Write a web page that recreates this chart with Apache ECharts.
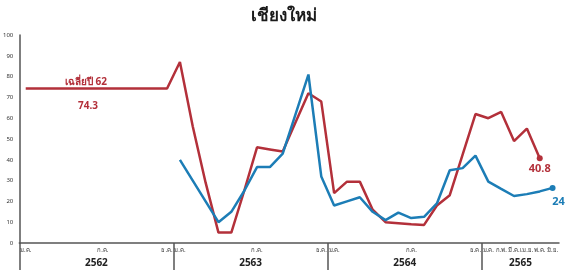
<!DOCTYPE html>
<html>
<head>
<meta charset="utf-8">
<script src="https://cdn.jsdelivr.net/npm/echarts@6/dist/echarts.min.js"></script>
<style>
  html, body { margin: 0; padding: 0; background: #fff; }
  #chart { width: 568px; height: 270px; }
</style>
</head>
<body>
<div id="chart"></div>
<script>
// month tick labels, Jan 2562 .. Jun 2565 ('' = no label)
var monthLabels = [
  "ม.ค.", "", "", "", "", "", "ก.ค.", "", "", "", "", "ธ.ค.",
  "ม.ค.", "", "", "", "", "", "ก.ค.", "", "", "", "", "ธ.ค.",
  "ม.ค.", "", "", "", "", "", "ก.ค.", "", "", "", "", "ธ.ค.",
  "ม.ค.", "ก.พ.", "มี.ค.", "เม.ย.", "พ.ค.", "มิ.ย."
];
var years = ["2562", "2563", "2564", "2565"];
var yearMonths = [12, 12, 12, 6];

var redValues = [
  74.3, 74.3, 74.3, 74.3, 74.3, 74.3, 74.3, 74.3, 74.3, 74.3, 74.3, 74.3,
  87, 56, 29, 5, 5, 25, 46, 45, 44, 58, 72, 68,
  24, 29.5, 29.5, 16, 10, 9.5, 9, 8.7, 18, 23, 42.5, 62,
  60, 63, 49, 55, 40.8, null
];
var blueValues = [
  null, null, null, null, null, null, null, null, null, null, null, null,
  40, 30, 20, 10, 15, 25, 36.5, 36.5, 43, 62, 81, 32,
  18, 20, 22, 15, 11, 14.6, 12, 12.6, 19, 35, 36, 42,
  29.5, 26, 22.6, 23.5, 24.8, 26.5
];
var avgLabel = "เฉลี่ยปี 62";
var avgValue = 74.3;
var endLabels = ["40.8", "24"];

var red = "#b3303a";
var blue = "#1c7db6";

// year separators and centres on a half-month scale
var sepTicks = [0];
var yearCentres = [];
var acc = 0;
for (var i = 0; i < years.length; i++) {
  yearCentres.push(acc * 2 + yearMonths[i]);
  acc += yearMonths[i];
  if (i < years.length - 1) sepTicks.push(acc * 2);
}

function withEnd(values, text, color, offset) {
  var last = -1;
  values.forEach(function (v, k) { if (v != null) last = k; });
  return values.map(function (v, k) {
    if (k !== last) return v;
    return {
      value: v,
      symbol: "circle",
      symbolSize: 6,
      label: {
        show: true,
        position: "bottom",
        offset: offset,
        formatter: text,
        color: color,
        fontWeight: "bold",
        fontSize: 11
      }
    };
  });
}

var chart = echarts.init(document.getElementById("chart"));
chart.setOption({
  animation: false,
  textStyle: { fontFamily: "Noto Sans, sans-serif" },
  title: {
    text: "เชียงใหม่",
    left: "center",
    top: 3,
    textStyle: { fontSize: 17, fontWeight: "bold", color: "#1a1a1a" }
  },
  grid: { left: 19, right: 9, top: 35, bottom: 27 },
  xAxis: [
    {
      type: "category",
      data: monthLabels,
      boundaryGap: true,
      axisLine: { lineStyle: { color: "#555", width: 1.5 } },
      axisTick: {
        alignWithLabel: true,
        length: 4,
        interval: function (i, v) { return v !== ""; },
        lineStyle: { color: "#555" }
      },
      axisLabel: {
        interval: function (i, v) { return v !== ""; },
        fontSize: 6,
        margin: 4,
        color: "#333"
      }
    },
    {
      type: "value",
      position: "bottom",
      min: 0,
      max: monthLabels.length * 2,
      axisLine: { show: false },
      splitLine: { show: false },
      axisTick: {
        show: true,
        customValues: sepTicks,
        length: 27,
        lineStyle: { color: "#555", width: 1.5 }
      },
      axisLabel: {
        customValues: yearCentres,
        formatter: function (v) { return years[yearCentres.indexOf(v)]; },
        margin: 15,
        fontSize: 10,
        fontWeight: "bold",
        color: "#222"
      }
    }
  ],
  yAxis: {
    type: "value",
    min: 0,
    max: 100,
    interval: 10,
    axisLine: { show: true, lineStyle: { color: "#555", width: 1.5 } },
    axisTick: { show: false },
    splitLine: { show: false },
    axisLabel: { fontSize: 6, margin: 6, color: "#333" }
  },
  series: [
    {
      type: "line",
      data: withEnd(redValues, endLabels[0], red, [0, -3]),
      symbol: "none",
      showAllSymbol: true,
      lineStyle: { color: red, width: 2.5 },
      itemStyle: { color: red },
      markPoint: {
        symbol: "circle",
        symbolSize: 1,
        itemStyle: { color: "rgba(0,0,0,0)" },
        data: [
          {
            coord: [5, avgValue],
            label: {
              show: true, position: "inside", formatter: avgLabel, offset: [-4, -6],
              color: red, fontWeight: "bold", fontSize: 10
            }
          },
          {
            coord: [5, avgValue],
            label: {
              show: true, position: "inside", formatter: String(avgValue), offset: [-2, 18],
              color: red, fontWeight: "bold", fontSize: 10
            }
          }
        ]
      }
    },
    {
      type: "line",
      data: withEnd(blueValues, endLabels[1], blue, [6, 0]),
      symbol: "none",
      showAllSymbol: true,
      lineStyle: { color: blue, width: 2.5 },
      itemStyle: { color: blue }
    }
  ]
});
</script>
</body>
</html>
